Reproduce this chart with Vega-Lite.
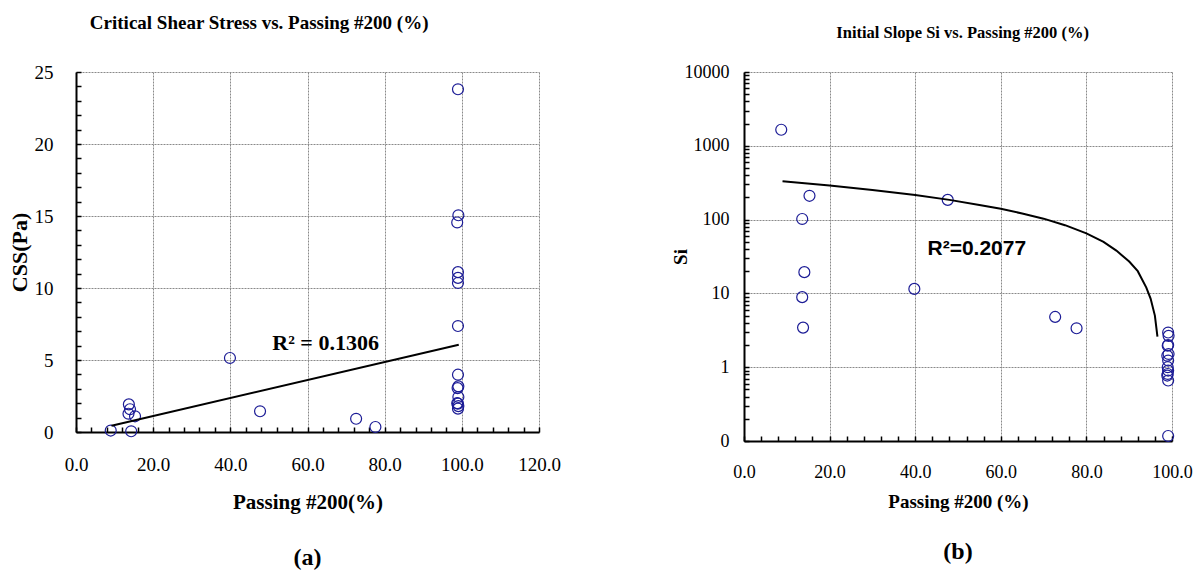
{
  "$schema": "https://vega.github.io/schema/vega-lite/v6.json",
  "background": "white",
  "padding": {"left": 8, "top": 14, "right": 5, "bottom": 5},
  "spacing": 110,
  "config": {
    "view": {"stroke": null},
    "font": "Liberation Serif",
    "axis": {
      "domainColor": "black",
      "domainWidth": 2,
      "tickColor": "black",
      "tickWidth": 1.5,
      "tickCount": 200,
      "gridColor": "#8a8a8a",
      "gridDash": [2, 1],
      "gridWidth": 1,
      "labelFont": "Liberation Serif",
      "labelColor": "black",
      "labelOverlap": false,
      "labelFlush": false,
      "titleFont": "Liberation Serif",
      "titleFontWeight": "bold",
      "titleColor": "black"
    }
  },
  "datasets": {
    "css": [
      {"passing": 9.0, "css": 0.1},
      {"passing": 14.3, "css": 0.05},
      {"passing": 13.7, "css": 1.92},
      {"passing": 14.0, "css": 1.58},
      {"passing": 13.6, "css": 1.27},
      {"passing": 15.3, "css": 1.09},
      {"passing": 39.9, "css": 5.14},
      {"passing": 47.7, "css": 1.44},
      {"passing": 72.6, "css": 0.92},
      {"passing": 77.6, "css": 0.35},
      {"passing": 99.0, "css": 23.8},
      {"passing": 99.1, "css": 15.05},
      {"passing": 98.8, "css": 14.55},
      {"passing": 99.0, "css": 11.1},
      {"passing": 99.0, "css": 10.7},
      {"passing": 99.0, "css": 10.35},
      {"passing": 99.0, "css": 7.36},
      {"passing": 99.0, "css": 3.98},
      {"passing": 99.1, "css": 3.17},
      {"passing": 98.9, "css": 3.05},
      {"passing": 99.1, "css": 2.43},
      {"passing": 98.8, "css": 2.0},
      {"passing": 99.0, "css": 1.97},
      {"passing": 99.1, "css": 1.8},
      {"passing": 99.0, "css": 1.62}
    ],
    "cssTrend": [
      {"passing": 9.2, "css": 0.44},
      {"passing": 99.2, "css": 6.06}
    ],
    "si": [
      {"passing": 8.7, "si": 1650},
      {"passing": 15.3, "si": 210},
      {"passing": 13.6, "si": 102},
      {"passing": 14.1, "si": 19.4},
      {"passing": 13.6, "si": 8.9},
      {"passing": 13.8, "si": 3.44},
      {"passing": 39.8, "si": 11.5},
      {"passing": 47.6, "si": 185},
      {"passing": 72.7, "si": 4.8},
      {"passing": 77.7, "si": 3.37},
      {"passing": 99.1, "si": 2.95},
      {"passing": 99.2, "si": 2.66},
      {"passing": 99.1, "si": 2.0},
      {"passing": 99.0, "si": 1.95},
      {"passing": 99.2, "si": 1.51},
      {"passing": 98.9, "si": 1.43},
      {"passing": 99.1, "si": 1.23},
      {"passing": 99.0, "si": 1.0},
      {"passing": 99.1, "si": 0.9},
      {"passing": 99.0, "si": 0.81},
      {"passing": 98.9, "si": 0.77},
      {"passing": 99.1, "si": 0.66},
      {"passing": 99.1, "si": 0.117}
    ],
    "siTrend": [
      {"passing": 9.0, "si": 330},
      {"passing": 20, "si": 290},
      {"passing": 30, "si": 252},
      {"passing": 40, "si": 215},
      {"passing": 48, "si": 185},
      {"passing": 55, "si": 158},
      {"passing": 60, "si": 140},
      {"passing": 65, "si": 121},
      {"passing": 70, "si": 103},
      {"passing": 75, "si": 84},
      {"passing": 80, "si": 65},
      {"passing": 84, "si": 50},
      {"passing": 87, "si": 38},
      {"passing": 90, "si": 27},
      {"passing": 92, "si": 20},
      {"passing": 94, "si": 12},
      {"passing": 95, "si": 8.5},
      {"passing": 96, "si": 5},
      {"passing": 96.6, "si": 2.6}
    ]
  },
  "hconcat": [
    {
      "title": {"text": "Critical Shear Stress  vs. Passing #200 (%)", "anchor": "middle", "font": "Liberation Serif", "fontSize": 19, "fontWeight": "bold", "color": "black", "offset": 30, "dx": -25},
      "vconcat": [
        {
          "width": 463,
          "height": 360,
          "title": {"text": "(a)", "orient": "bottom", "anchor": "middle", "font": "Liberation Serif", "fontSize": 24, "fontWeight": "bold", "color": "black", "offset": 34},
          "layer": [
            {
              "data": {"name": "css"},
              "mark": {"type": "point", "shape": "circle", "filled": false, "stroke": "#1c1c96", "strokeWidth": 1.2, "size": 120, "opacity": 1},
              "encoding": {
                "x": {
                  "field": "passing", "type": "quantitative",
                  "scale": {"domain": [0, 120], "nice": false, "zero": false},
                  "axis": {
                    "title": "Passing #200(%)",
                    "titleFontSize": 21,
                    "titlePadding": 17,
                    "labelFontSize": 19,
                    "values": [0, 4, 8, 12, 16, 20, 24, 28, 32, 36, 40, 44, 48, 52, 56, 60, 64, 68, 72, 76, 80, 84, 88, 92, 96, 100, 104, 108, 112, 116, 120],
                    "labelExpr": "datum.value % 20 === 0 ? format(datum.value, '.1f') : ''",
                    "labelPadding": 28,
                    "tickSize": -5,
                    "grid": true,
                    "gridOpacity": {"condition": {"test": "datum.value % 20 === 0", "value": 1}, "value": 0}
                  }
                },
                "y": {
                  "field": "css", "type": "quantitative",
                  "scale": {"domain": [0, 25], "nice": false},
                  "axis": {
                    "title": "CSS(Pa)",
                    "titleFontSize": 22,
                    "titlePadding": 3,
                    "labelFontSize": 19,
                    "values": [0, 1, 2, 3, 4, 5, 6, 7, 8, 9, 10, 11, 12, 13, 14, 15, 16, 17, 18, 19, 20, 21, 22, 23, 24, 25],
                    "labelExpr": "datum.value % 5 === 0 ? format(datum.value, '.0f') : ''",
                    "labelPadding": 28,
                    "tickSize": -5,
                    "grid": true,
                    "gridOpacity": {"condition": {"test": "datum.value % 5 === 0", "value": 1}, "value": 0}
                  }
                }
              }
            },
            {
              "data": {"name": "cssTrend"},
              "mark": {"type": "line", "color": "black", "strokeWidth": 2},
              "encoding": {
                "x": {"field": "passing", "type": "quantitative"},
                "y": {"field": "css", "type": "quantitative"}
              }
            },
            {
              "data": {"values": [{}]},
              "mark": {"type": "text", "font": "Liberation Serif", "fontSize": 22, "fontWeight": "bold", "color": "black", "baseline": "middle"},
              "encoding": {
                "x": {"datum": 64.7},
                "y": {"datum": 6.15},
                "text": {"value": "R² = 0.1306"}
              }
            }
          ]
        }
      ]
    },
    {
      "title": {"text": "Initial Slope Si vs. Passing #200 (%)", "anchor": "middle", "font": "Liberation Serif", "fontSize": 16.5, "fontWeight": "bold", "color": "black", "offset": 21, "dy": -1, "dx": 31},
      "vconcat": [
        {
          "width": 428,
          "height": 369,
          "title": {"text": "(b)", "orient": "bottom", "anchor": "middle", "font": "Liberation Serif", "fontSize": 24, "fontWeight": "bold", "color": "black", "offset": 29},
          "layer": [
            {
              "data": {"name": "si"},
              "mark": {"type": "point", "shape": "circle", "filled": false, "stroke": "#1c1c96", "strokeWidth": 1.2, "size": 120, "opacity": 1},
              "encoding": {
                "x": {
                  "field": "passing", "type": "quantitative",
                  "scale": {"domain": [0, 100], "nice": false, "zero": false},
                  "axis": {
                    "title": "Passing #200 (%)",
                    "titleFontSize": 19,
                    "titlePadding": 11,
                    "labelFontSize": 18,
                    "values": [0, 4, 8, 12, 16, 20, 24, 28, 32, 36, 40, 44, 48, 52, 56, 60, 64, 68, 72, 76, 80, 84, 88, 92, 96, 100],
                    "labelExpr": "datum.value % 20 === 0 ? format(datum.value, '.1f') : ''",
                    "labelPadding": 27,
                    "tickSize": -5,
                    "grid": true,
                    "gridOpacity": {"condition": {"test": "datum.value % 20 === 0", "value": 1}, "value": 0}
                  }
                },
                "y": {
                  "field": "si", "type": "quantitative",
                  "scale": {"type": "log", "domain": [0.1, 10000], "nice": false},
                  "axis": {
                    "title": "Si",
                    "titleFontSize": 19,
                    "titlePadding": -6,
                    "labelFontSize": 18,
                    "values": [0.1, 0.2, 0.3, 0.4, 0.5, 0.6, 0.7, 0.8, 0.9, 1, 2, 3, 4, 5, 6, 7, 8, 9, 10, 20, 30, 40, 50, 60, 70, 80, 90, 100, 200, 300, 400, 500, 600, 700, 800, 900, 1000, 2000, 3000, 4000, 5000, 6000, 7000, 8000, 9000, 10000],
                    "labelExpr": "abs(log(datum.value) / LN10 - round(log(datum.value) / LN10)) < 0.001 ? format(datum.value, '.0f') : ''",
                    "labelPadding": 20,
                    "tickSize": -5,
                    "grid": true,
                    "gridOpacity": {"condition": {"test": "abs(log(datum.value) / LN10 - round(log(datum.value) / LN10)) < 0.001", "value": 1}, "value": 0}
                  }
                }
              }
            },
            {
              "data": {"name": "siTrend"},
              "mark": {"type": "line", "color": "black", "strokeWidth": 2},
              "encoding": {
                "x": {"field": "passing", "type": "quantitative"},
                "y": {"field": "si", "type": "quantitative"}
              }
            },
            {
              "data": {"values": [{}]},
              "mark": {"type": "text", "font": "Liberation Sans", "fontSize": 21, "fontWeight": "bold", "color": "black", "baseline": "middle"},
              "encoding": {
                "x": {"datum": 54.4},
                "y": {"datum": 40.2},
                "text": {"value": "R²=0.2077"}
              }
            }
          ]
        }
      ]
    }
  ]
}
